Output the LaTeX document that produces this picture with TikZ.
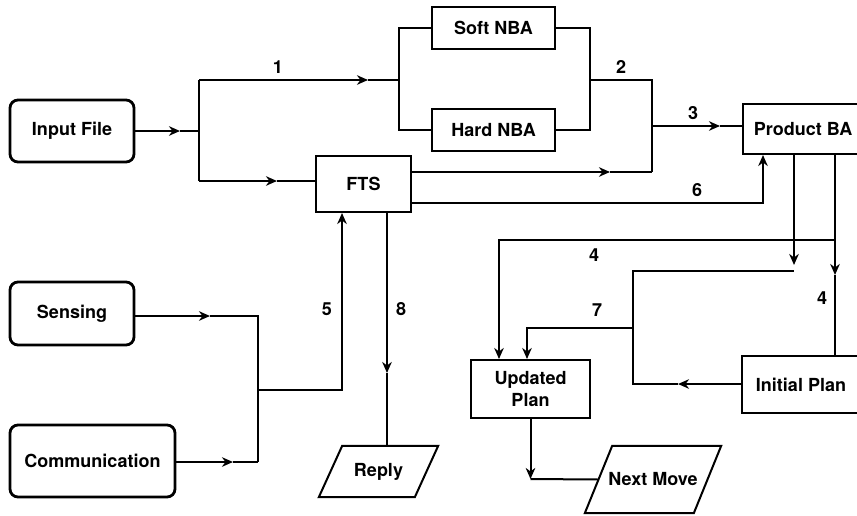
\documentclass[tikz,border=0pt]{standalone}
\usepackage{fontspec}
\setmainfont{TeX Gyre Heros}
\usetikzlibrary{arrows.meta}
\begin{document}
\begin{tikzpicture}[x=1pt,y=-1pt,
  txt/.style={inner sep=0pt, font=\bfseries\fontsize{18}{22}\selectfont},
  rbox/.style={txt, draw, rounded corners=8pt, line width=2.8pt},
  box/.style={txt, draw, line width=2pt},
  conn/.style={line width=2pt},
  arr/.style={conn, -{Stealth[length=11pt,width=9.5pt,inset=3.5pt]}},
  lab/.style={txt}]
\useasboundingbox (0,0) rectangle (857,515);
\clip (0,0) rectangle (857,515);
% nodes
\node[rbox, minimum width=124pt, minimum height=62pt] (in) at (72,131) {Input File};
\node[box, minimum width=123pt, minimum height=42pt] (soft) at (493.5,28) {Soft NBA};
\node[box, minimum width=123pt, minimum height=42pt] (hard) at (493.5,130) {Hard NBA};
\node[box, minimum width=95pt, minimum height=56pt] (fts) at (363.5,184) {FTS};
\node[box, minimum width=120pt, minimum height=50pt] (pba) at (803,129) {Product BA};
\node[rbox, minimum width=124pt, minimum height=63pt] (sens) at (72,313.5) {Sensing};
\node[rbox, minimum width=165pt, minimum height=72pt] (comm) at (92.5,461) {Communication};
\node[box, minimum width=119pt, minimum height=58pt, align=center] (upd) at (530.5,389) {Updated\\Plan};
\node[box, minimum width=118pt, minimum height=57pt] (init) at (801,384.5) {Initial Plan};
\node[txt, minimum width=119pt, minimum height=51pt] (reply) at (378.5,471.5) {Reply};
\draw[conn] (reply.south west) -- ++(96,0) -- (reply.north east) -- ++(-96,0) -- cycle;
\node[txt, minimum width=136pt, minimum height=67pt] (next) at (653,479.5) {Next Move};
\draw[conn] (next.south west) -- ++(109,0) -- (next.north east) -- ++(-109,0) -- cycle;
% coordinates
\coordinate (a1) at (180,131); \coordinate (j1) at (199,131);
\coordinate (t1) at (199,80); \coordinate (ta) at (368,80); \coordinate (t2) at (399,80);
\coordinate (b1) at (199,181); \coordinate (ba) at (277,181);
\coordinate (m2) at (590,80); \coordinate (r2) at (652,80); \coordinate (r4) at (652,172);
\coordinate (fa) at (610,172); \coordinate (r3) at (652,126); \coordinate (pa) at (720,126);
\coordinate (c6) at (763,203);
\coordinate (d1) at (794,265); \coordinate (d2) at (835,275);
\coordinate (h4) at (835,240); \coordinate (u4) at (499,240);
\coordinate (k1) at (794,271); \coordinate (k2) at (633,271); \coordinate (k3) at (633,384);
\coordinate (ka) at (678,384); \coordinate (k4) at (633,328); \coordinate (u7) at (527,328);
\coordinate (n1) at (530.5,479);
\coordinate (sa) at (210,316); \coordinate (s1) at (258,316); \coordinate (s2) at (258,462);
\coordinate (ca) at (233,462); \coordinate (s3) at (258,390); \coordinate (f5) at (342,390);
\coordinate (e8) at (387,373);
% connectors
\draw[arr] (in.east) -- (a1); \draw[conn] (a1) -- (j1);
\draw[conn] (t1) -- (b1);
\draw[arr] (t1) -- (ta); \draw[conn] (ta) -- (t2);
\draw[conn] (soft.west) -| (t2) |- (hard.west);
\draw[arr] (b1) -- (ba); \draw[conn] (ba) -- (fts.west |- ba);
\draw[conn] (soft.east) -| (m2) |- (hard.east);
\draw[conn] (m2) -- (r2) -- (r4);
\draw[arr] (fts.east |- fa) -- (fa); \draw[conn] (fa) -- (r4);
\draw[arr] (r3) -- (pa); \draw[conn] (pa) -- (pba.west |- pa);
\draw[arr] (fts.east |- c6) -- (c6) -- (pba.south -| c6);
\draw[arr] (pba.south -| d1) -- (d1);
\draw[arr] (pba.south -| d2) -- (d2); \draw[conn] (d2) -- (init.north -| d2);
\draw[arr] (h4) -- (u4) -- (upd.north -| u4);
\draw[arr] (init.west |- ka) -- (ka); \draw[conn] (ka) -- (k3) -- (k2) -- (k1);
\draw[arr] (k4) -- (u7) -- (upd.north -| u7);
\draw[arr] (upd.south) -- (n1); \draw[conn] (n1) -- ([xshift=13.5pt]next.west);
\draw[arr] (sens.east |- sa) -- (sa); \draw[conn] (sa) -- (s1) -- (s2);
\draw[arr] (comm.east |- ca) -- (ca); \draw[conn] (ca) -- (s2);
\draw[arr] (s3) -- (f5) -- (fts.south -| f5);
\draw[arr] (fts.south -| e8) -- (e8); \draw[conn] (e8) -- (reply.north -| e8);
% labels
\node[lab] (l1) at (278,67) {1};
\node[lab] (l2) at (621,67) {2};
\node[lab] (l3) at (693,113) {3};
\node[lab] (l6) at (697,190) {6};
\node[lab] (l4a) at (594,255) {4};
\node[lab] (l4b) at (822,298) {4};
\node[lab] (l7) at (597,310) {7};
\node[lab] (l5) at (327,309) {5};
\node[lab] (l8) at (401,309) {8};
\end{tikzpicture}
\end{document}
